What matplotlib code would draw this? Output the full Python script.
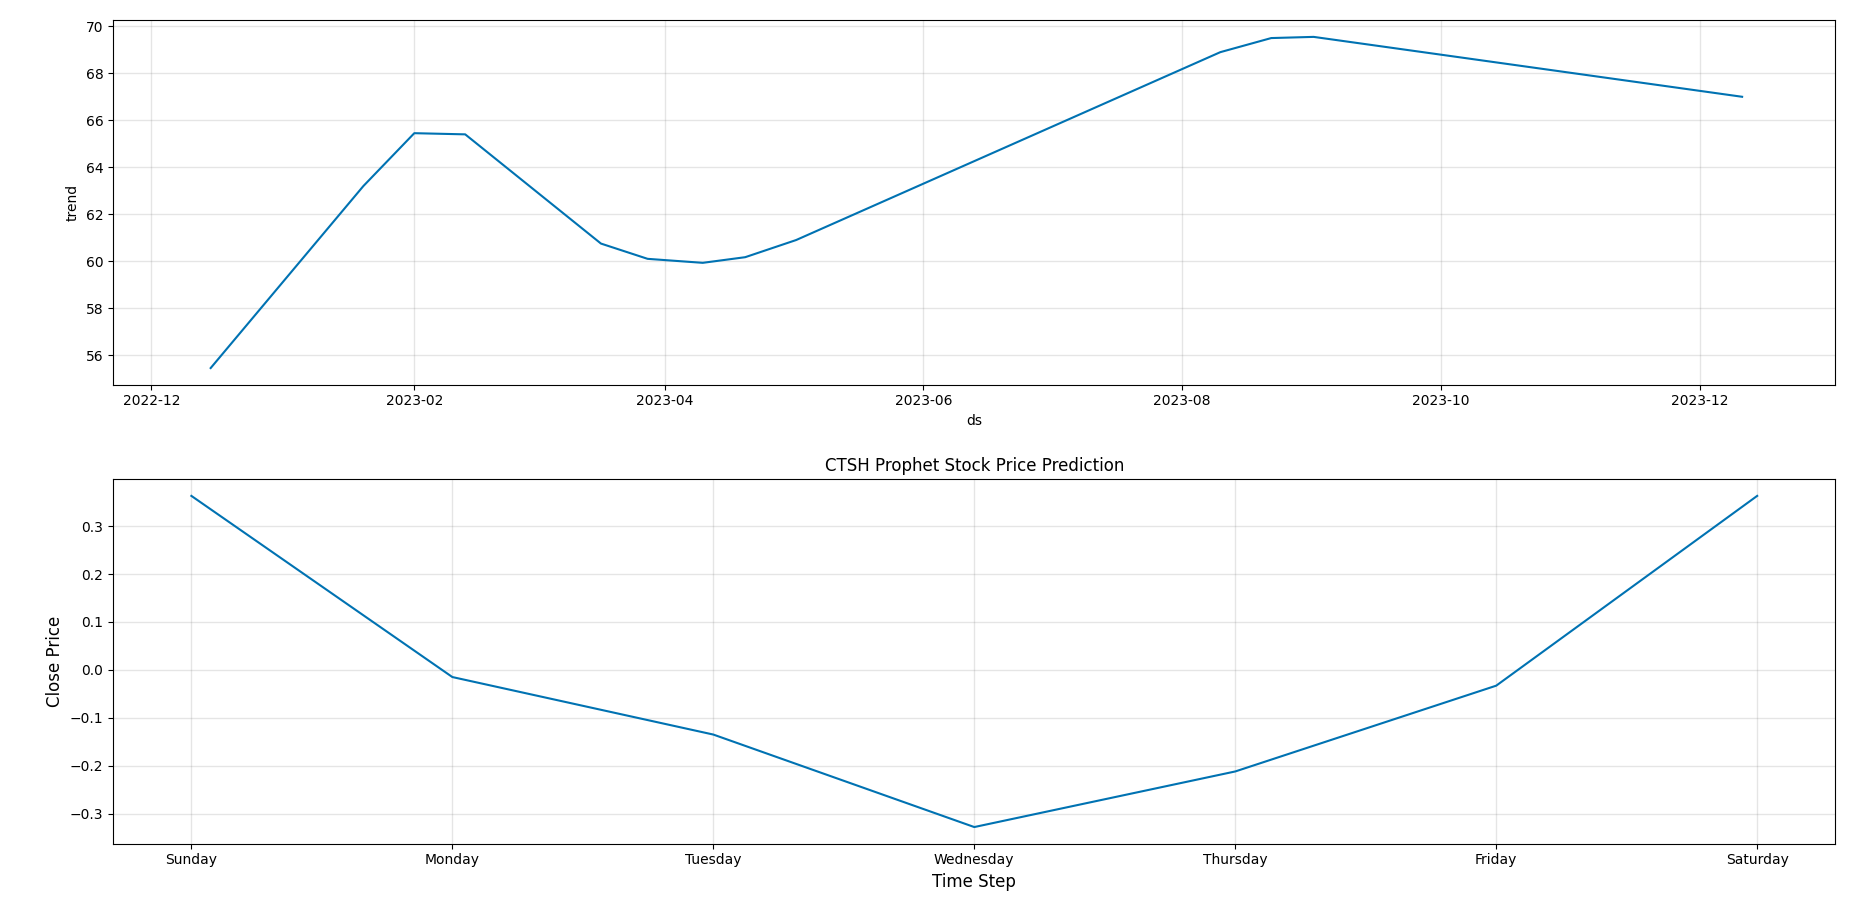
import matplotlib
matplotlib.use("Agg")
import matplotlib.pyplot as plt
import matplotlib.dates as mdates
import pandas as pd

trend_dates = ["2022-12-15", "2023-01-20", "2023-02-01", "2023-02-13", "2023-03-17",
               "2023-03-28", "2023-04-10", "2023-04-20", "2023-05-02", "2023-08-10",
               "2023-08-22", "2023-09-01", "2023-12-11"]
trend_vals = [55.45, 63.2, 65.45, 65.4, 60.75, 60.1, 59.93, 60.17, 60.9, 68.9,
              69.5, 69.55, 67.0]
days = ["Sunday", "Monday", "Tuesday", "Wednesday", "Thursday", "Friday", "Saturday"]
weekly_vals = [0.363, -0.015, -0.135, -0.328, -0.212, -0.033, 0.363]

color = "#0072B2"
fig = plt.figure(figsize=(18.54, 9.24), dpi=100)

ax1 = fig.add_subplot(2, 1, 1)
ax1.plot(pd.to_datetime(trend_dates), trend_vals, color=color)
ax1.xaxis.set_major_locator(mdates.MonthLocator(bymonth=[2, 4, 6, 8, 10, 12]))
ax1.xaxis.set_major_formatter(mdates.DateFormatter("%Y-%m"))
ax1.set_xlim(pd.Timestamp("2022-11-22"), pd.Timestamp("2024-01-02"))
ax1.grid(True, which="major", color="gray", ls="-", lw=1, alpha=0.2)
ax1.set_xlabel("ds")
ax1.set_ylabel("trend")

ax2 = fig.add_subplot(2, 1, 2)
ax2.plot(range(7), weekly_vals, color=color)
ax2.set_xticks(range(7))
ax2.set_xticklabels(days)
ax2.grid(True, which="major", color="gray", ls="-", lw=1, alpha=0.2)
ax2.set_title("CTSH Prophet Stock Price Prediction")
ax2.set_xlabel("Time Step", fontsize=12)
ax2.set_ylabel("Close Price", fontsize=12)

plt.subplots_adjust(left=0.061, right=0.990, top=0.978, bottom=0.087, hspace=0.26)
plt.savefig("out.png")
